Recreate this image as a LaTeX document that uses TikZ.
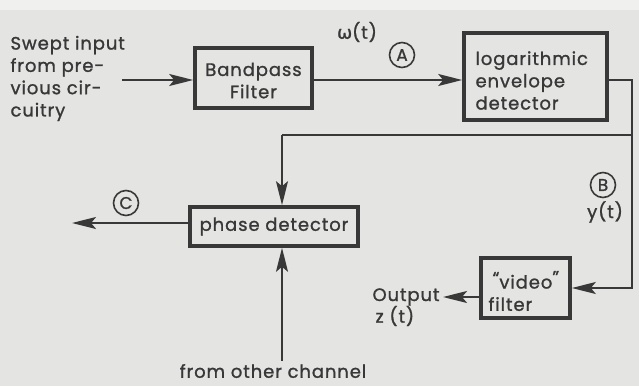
\documentclass[tikz,border=0pt]{standalone}
\usepackage{fontspec}
\setmainfont{Poppins}[FakeBold=1.2,LetterSpace=5]
\newfontfamily\greekfont{DejaVu Sans}[FakeBold=1.2]
\usetikzlibrary{arrows.meta,calc}
\definecolor{ink}{HTML}{383838}
\definecolor{paper}{HTML}{E4E4E2}
\definecolor{topstrip}{HTML}{F0F0EF}
\begin{document}
\begin{tikzpicture}[x=1pt,y=-1pt,
  every node/.style={text=ink,font=\fontsize{18}{22.3}\selectfont},
  blk/.style={draw=ink,line width=3.6pt,inner sep=0pt},
  con/.style={draw=ink,line width=2.1pt},
  arr/.style={con,-{Stealth[length=24pt,width=12pt,inset=5pt]}},
  circmark/.style={circle,draw=ink,line width=1.6pt,minimum size=25pt,inner sep=0pt,font=\fontsize{17}{17}\selectfont}
]
\useasboundingbox (0,0) rectangle (639,386);
\fill[topstrip] (0,0) rectangle (639,10);
\fill[paper] (0,10) rectangle (639,386);

% blocks
\node[blk,minimum width=117pt,minimum height=60pt] (bpf) at (253.5,78) {};
\node[align=center] (bpft) at (253.5,80.5) {Bandpass\\Filter};
\node[blk,minimum width=143pt,minimum height=87pt] (log) at (535.5,76.5) {};
\node[align=left,anchor=west] (logt) at (472,80.5) {logarithmic\\envelope\\detector};
\node[blk,minimum width=168pt,minimum height=39pt] (phase) at (274,226.5) {phase detector};
\node[blk,minimum width=89pt,minimum height=60pt] (video) at (525.5,288) {};
\node[align=left,anchor=west] (videot) at (485,291) {\hspace{4pt}\raisebox{4pt}{``}video\raisebox{5pt}{''}\\filter};

% texts
\node[align=left,anchor=west] (swept) at (7,78.5) {Swept input\\from pre-\\vious cir-\\cuitry};
\node (omega) at (357,32) {{\greekfont ω}(t)};
\node[circmark] (ca) at (402,55) {A};
\node[circmark] (cb) at (603,185) {B};
\node (yt) at (605,212) {y(t)};
\node[circmark] (cc) at (126,203) {C};
\node[anchor=west] (outn) at (369,297) {Output};
\node[anchor=west] (zt) at (372,316) {z (t)};
\node (oc) at (273,371) {from other channel};

% connectors
\coordinate (sw) at (122,80);
\coordinate (rr) at (632,135);
\coordinate (px) at (282,135);
\coordinate (cout) at (72,223);
\draw[arr] (sw) -- (sw -| bpf.west);
\draw[arr] (bpf.east |- sw) -- (log.west |- sw);
\draw[arr] (log.east |- sw) -| (rr) |- (video.east);
\draw[con] (rr) -- (px);
\draw[arr] (px) -- (px |- phase.north);
\draw[arr] (px |- oc.north) -- (px |- phase.south);
\draw[arr] (phase.west |- cout) -- (cout);
\draw[arr] (video.west |- outn.east) -- (outn.east);
\end{tikzpicture}
\end{document}
